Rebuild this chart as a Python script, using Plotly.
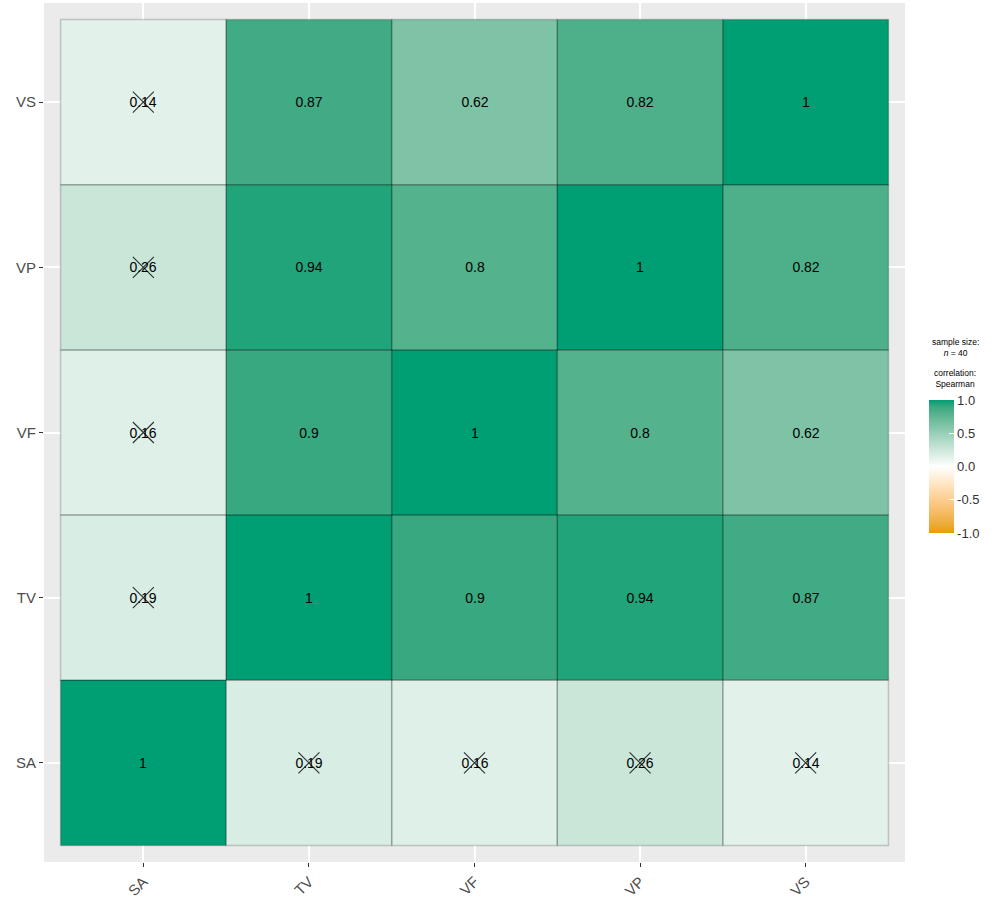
import plotly.graph_objects as go

variables = ["SA", "TV", "VF", "VP", "VS"]
corr = [
    [1.00, 0.19, 0.16, 0.26, 0.14],
    [0.19, 1.00, 0.90, 0.94, 0.87],
    [0.16, 0.90, 1.00, 0.80, 0.62],
    [0.26, 0.94, 0.80, 1.00, 0.82],
    [0.14, 0.87, 0.62, 0.82, 1.00],
]
significant = [
    [1, 0, 0, 0, 0],
    [0, 1, 1, 1, 1],
    [0, 1, 1, 1, 1],
    [0, 1, 1, 1, 1],
    [0, 1, 1, 1, 1],
]
cbar_ticks = [-1.0, -0.5, 0.0, 0.5, 1.0]
low_col, mid_col, high_col = "#E69F00", "#FFFFFF", "#009E73"

# ---- Lab interpolation (like ggplot2's scale_fill_gradient2) ----
def hex2rgb(h):
    h = h.lstrip("#")
    return [int(h[i:i+2], 16) / 255 for i in (0, 2, 4)]

def rgb2lab(rgb):
    def lin(c):
        return c / 12.92 if c <= 0.04045 else ((c + 0.055) / 1.055) ** 2.4
    r, g, b = [lin(c) for c in rgb]
    X = (0.4124 * r + 0.3576 * g + 0.1805 * b) / 0.95047
    Y = (0.2126 * r + 0.7152 * g + 0.0722 * b) / 1.0
    Z = (0.0193 * r + 0.1192 * g + 0.9505 * b) / 1.08883
    def f(t):
        return t ** (1/3) if t > 0.008856 else 7.787 * t + 16/116
    fx, fy, fz = f(X), f(Y), f(Z)
    return [116 * fy - 16, 500 * (fx - fy), 200 * (fy - fz)]

def lab2rgb(lab):
    L, a, b = lab
    fy = (L + 16) / 116
    fx = fy + a / 500
    fz = fy - b / 200
    def finv(t):
        return t ** 3 if t ** 3 > 0.008856 else (t - 16/116) / 7.787
    X, Y, Z = finv(fx) * 0.95047, finv(fy), finv(fz) * 1.08883
    r = 3.2406 * X - 1.5372 * Y - 0.4986 * Z
    g = -0.9689 * X + 1.8758 * Y + 0.0415 * Z
    bb = 0.0557 * X - 0.2040 * Y + 1.0570 * Z
    def gam(c):
        c = c * 12.92 if c <= 0.0031308 else 1.055 * c ** (1/2.4) - 0.055
        return max(0, min(255, round(c * 255)))
    return "rgb(%d,%d,%d)" % (gam(r), gam(g), gam(bb))

lab_lo, lab_mid, lab_hi = rgb2lab(hex2rgb(low_col)), rgb2lab(hex2rgb(mid_col)), rgb2lab(hex2rgb(high_col))
colorscale = []
steps = 20
for k in range(steps + 1):
    t = k / steps
    if t <= 0.5:
        u = t / 0.5
        lab = [lab_lo[i] + (lab_mid[i] - lab_lo[i]) * u for i in range(3)]
    else:
        u = (t - 0.5) / 0.5
        lab = [lab_mid[i] + (lab_hi[i] - lab_mid[i]) * u for i in range(3)]
    colorscale.append([t, lab2rgb(lab)])

def fmt(v):
    return ("%.2f" % v).rstrip("0").rstrip(".")

W, H = 996, 899
L, R, T, B = 44, 91, 3, 37
PW, PH = W - L - R, H - T - B

def px(xp):
    return (xp - L) / PW

def py(yp):
    return (H - B - yp) / PH

n = len(variables)
fig = go.Figure()
fig.add_trace(go.Heatmap(
    x=list(range(n)), y=list(range(n)), z=corr,
    zmin=-1, zmax=1,
    colorscale=colorscale,
    text=[[fmt(v) for v in row] for row in corr],
    texttemplate="%{text}", textfont=dict(size=14, color="black", family="Liberation Sans, Arial"),
    hoverinfo="skip",
    colorbar=dict(
        x=px(929), xanchor="left", xpad=0, ypad=0,
        y=py(533), yanchor="bottom",
        lenmode="pixels", len=133, thickness=25,
        tickvals=cbar_ticks, ticktext=["%.1f" % t for t in cbar_ticks],
        ticks="inside", tickcolor="white", ticklen=5, outlinewidth=0,
        tickfont=dict(size=13, color="#333333", family="Liberation Sans, Arial"),
    ),
))

# tile borders
for i in range(n):
    for j in range(n):
        fig.add_shape(type="rect", x0=j-0.5, x1=j+0.5, y0=i-0.5, y1=i+0.5,
                      line=dict(color="rgba(0,0,0,0.18)", width=1.5), layer="above")

# crosses for non-significant
xs, ys = [], []
for i in range(n):
    for j in range(n):
        if not significant[i][j]:
            xs.append(j); ys.append(i)
fig.add_trace(go.Scatter(x=xs, y=ys, mode="markers", hoverinfo="skip", showlegend=False,
                         marker=dict(symbol="x-thin-open", size=21, color="rgba(0,0,0,0.8)",
                                     line=dict(color="rgba(0,0,0,0.8)", width=1.1))))

fig.add_annotation(xref="paper", yref="paper", x=px(955), y=py(347),
                   text="sample size:<br><i>n</i> = 40", showarrow=False,
                   font=dict(size=8.5, color="black", family="Liberation Sans, Arial"),
                   align="center", xanchor="center", yanchor="middle")
fig.add_annotation(xref="paper", yref="paper", x=px(955), y=py(378),
                   text="correlation:<br>Spearman", showarrow=False,
                   font=dict(size=8.5, color="black", family="Liberation Sans, Arial"),
                   align="center", xanchor="center", yanchor="middle")

axis_common = dict(showgrid=True, gridcolor="white", gridwidth=1.5, zeroline=False,
                   ticks="outside", ticklen=4, tickcolor="#333333",
                   tickfont=dict(size=15, color="#4D4D4D", family="Liberation Sans, Arial"),
                   tickvals=list(range(n)), ticktext=variables, showline=False)
fig.update_xaxes(range=[-0.6, n-0.4], tickangle=-45, **axis_common)
fig.update_yaxes(range=[-0.6, n-0.4], **axis_common)

fig.update_layout(width=W, height=H, paper_bgcolor="white", plot_bgcolor="#EBEBEB",
                  margin=dict(l=L, r=R, t=T, b=B, autoexpand=False), showlegend=False)
fig.write_html("out.html", config={"displayModeBar": False},
               post_script="document.body.style.margin='0';document.body.style.padding='0';")
